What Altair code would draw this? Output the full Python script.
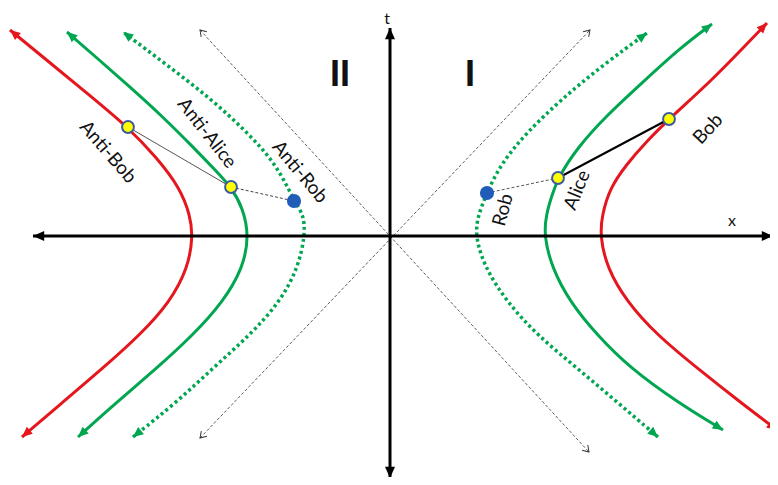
import math
import altair as alt
import pandas as pd

# ---------------- data (x, t) ----------------
RED_R_X = [387, 350, 307, 267, 237, 217, 210, 212, 220, 236, 256, 279, 320, 353, 377]
RED_R_T = [-194, -166, -132, -99, -66, -32, 0, 21, 48, 71, 94, 117, 154, 188, 213]

GREEN_R_X = [333, 287, 240, 207, 180, 162, 154, 156, 162, 168, 187, 217, 253, 290, 322]
GREEN_R_T = [-194, -166, -132, -99, -66, -32, 0, 21, 41, 58, 88, 121, 154, 188, 212]

DOT_R_X = [268, 227, 187, 147, 117, 95, 85, 88, 97, 110, 137, 173, 213, 257]
DOT_R_T = [-201, -166, -132, -99, -66, -32, 0, 21, 43, 71, 104, 138, 171, 203]

RED_L_X = [-368, -327, -287, -250, -220, -202, -197, -200, -210, -233, -262, -307, -347, -380]
RED_L_T = [-201, -166, -132, -99, -66, -32, 0, 21, 48, 78, 109, 146, 179, 206]

GREEN_L_X = [-312, -273, -233, -197, -167, -147, -141, -147, -159, -173, -197, -227, -260, -293, -323]
GREEN_L_T = [-201, -166, -132, -99, -66, -32, 0, 28, 49, 64, 89, 119, 149, 178, 204]

DOT_L_X = [-257, -213, -177, -140, -110, -92, -85, -86, -96, -113, -143, -180, -223, -267]
DOT_L_T = [-201, -166, -132, -99, -66, -32, 0, 21, 35, 71, 104, 138, 171, 204]

# light rays (through origin), each with two ends
LIGHT_X1 = [-190, -190]
LIGHT_T1 = [206, -202]
LIGHT_X2 = [199, 200]
LIGHT_T2 = [-216, 206]

# coordinate axes
AXIS_X1 = [-357, 0]
AXIS_T1 = [0, -242]
AXIS_X2 = [383, 0]
AXIS_T2 = [0, 208]

# observers
OBS_NAMES = ["Anti-Bob", "Anti-Alice", "Anti-Rob", "Rob", "Alice", "Bob"]
OBS_X = [-262, -159, -96, 97, 168, 279]
OBS_T = [109, 49, 35, 43, 58, 117]
OBS_KIND = ["yellow", "yellow", "blue", "blue", "yellow", "yellow"]

# connectors between observers (index pairs)
CONN_FROM = [0, 1, 3, 4]
CONN_TO = [1, 2, 4, 5]
CONN_DASHED = [False, True, True, False]
CONN_WIDTH = [1.0, 1.0, 1.0, 2.0]
CONN_COLOR = ["#555555", "#444444", "#555555", "#000000"]

# labels
LAB_TEXT = ["Anti-Bob", "Anti-Alice", "Anti-Rob", "Rob", "Alice", "Bob"]
LAB_X = [-282, -183, -90, 113, 187, 318]
LAB_T = [84, 103, 64, 26, 46, 107]
LAB_ANGLE = [49, 52, 50, 285, 292, 313]

RED = "#E5161D"
GREEN = "#00A650"

# ---------------- build tables ----------------
curves = [
    ("red_r", RED_R_X, RED_R_T, RED, False),
    ("green_r", GREEN_R_X, GREEN_R_T, GREEN, False),
    ("dot_r", DOT_R_X, DOT_R_T, GREEN, True),
    ("red_l", RED_L_X, RED_L_T, RED, False),
    ("green_l", GREEN_L_X, GREEN_L_T, GREEN, False),
    ("dot_l", DOT_L_X, DOT_L_T, GREEN, True),
]


def heading(x0, t0, x1, t1):
    return (math.degrees(math.atan2(x1 - x0, t1 - t0)) + 360) % 360


line_rows, head_rows = [], []
for name, xs, ts, col, dotted in curves:
    for i, (x, t) in enumerate(zip(xs, ts)):
        line_rows.append(dict(curve=name, order=i, x=x, t=t, color=col, dotted=dotted))
    head_rows.append(dict(x=xs[0], t=ts[0], color=col,
                          angle=heading(xs[1], ts[1], xs[0], ts[0])))
    head_rows.append(dict(x=xs[-1], t=ts[-1], color=col,
                          angle=heading(xs[-2], ts[-2], xs[-1], ts[-1])))
lines = pd.DataFrame(line_rows)
heads = pd.DataFrame(head_rows)

light = pd.DataFrame(dict(x=LIGHT_X1, t=LIGHT_T1, x2=LIGHT_X2, t2=LIGHT_T2))
light_heads = pd.DataFrame(
    [dict(x=a, t=b, angle=heading(c, d, a, b)) for a, b, c, d in zip(LIGHT_X1, LIGHT_T1, LIGHT_X2, LIGHT_T2)]
    + [dict(x=c, t=d, angle=heading(a, b, c, d)) for a, b, c, d in zip(LIGHT_X1, LIGHT_T1, LIGHT_X2, LIGHT_T2)]
)

axes = pd.DataFrame(dict(x=AXIS_X1, t=AXIS_T1, x2=AXIS_X2, t2=AXIS_T2))
axis_heads = pd.DataFrame(
    [dict(x=a, t=b, angle=heading(c, d, a, b)) for a, b, c, d in zip(AXIS_X1, AXIS_T1, AXIS_X2, AXIS_T2)]
    + [dict(x=c, t=d, angle=heading(a, b, c, d)) for a, b, c, d in zip(AXIS_X1, AXIS_T1, AXIS_X2, AXIS_T2)]
)

obs = pd.DataFrame(dict(name=OBS_NAMES, x=OBS_X, t=OBS_T, kind=OBS_KIND))
conn = pd.DataFrame(dict(
    x=[OBS_X[i] for i in CONN_FROM], t=[OBS_T[i] for i in CONN_FROM],
    x2=[OBS_X[i] for i in CONN_TO], t2=[OBS_T[i] for i in CONN_TO],
    dashed=CONN_DASHED, w=CONN_WIDTH, color=CONN_COLOR,
))
labels = pd.DataFrame(dict(text=LAB_TEXT, x=LAB_X, t=LAB_T, angle=LAB_ANGLE))
regions = pd.DataFrame(dict(text=["II", "I"], x=[-50, 80], t=[161, 161]))
axis_labels = pd.DataFrame(dict(text=["t", "x"], x=[-3, 342], t=[225, 23]))

# ---------------- scales ----------------
XS = alt.Scale(domain=[-382, 380], nice=False, zero=False)
YS = alt.Scale(domain=[-241, 228], nice=False, zero=False)
X = alt.X("x:Q", scale=XS, axis=None)
Y = alt.Y("t:Q", scale=YS, axis=None)
X2 = alt.X2("x2:Q")
Y2 = alt.Y2("t2:Q")

TRI = "M0,0L-0.45,1L0.45,1Z"
VEE = "M-0.55,0.85L0,0L0.55,0.85"

light_layer = alt.Chart(light).mark_rule(color="#333333", strokeWidth=0.8, strokeDash=[3, 2]).encode(
    x=X, y=Y, x2=X2, y2=Y2)
light_head_layer = alt.Chart(light_heads).mark_point(
    shape=VEE, filled=False, size=196, color="#333333", strokeWidth=1, opacity=1
).encode(x=X, y=Y, angle=alt.Angle("angle:Q", scale=None))

axes_layer = alt.Chart(axes).mark_rule(color="#000000", strokeWidth=3).encode(x=X, y=Y, x2=X2, y2=Y2)
axes_head_layer = alt.Chart(axis_heads).mark_point(
    shape=TRI, filled=True, size=500, color="#000000", opacity=1
).encode(x=X, y=Y, angle=alt.Angle("angle:Q", scale=None))

solid_layer = alt.Chart(lines[~lines.dotted]).mark_line(strokeWidth=3, interpolate="basis").encode(
    x=X, y=Y, detail="curve:N", order="order:Q", color=alt.Color("color:N", scale=None))
dotted_layer = alt.Chart(lines[lines.dotted]).mark_line(
    strokeWidth=3.5, strokeDash=[3, 3], interpolate="basis"
).encode(x=X, y=Y, detail="curve:N", order="order:Q", color=alt.Color("color:N", scale=None))
heads_layer = alt.Chart(heads).mark_point(shape=TRI, filled=True, size=420, opacity=1).encode(
    x=X, y=Y, angle=alt.Angle("angle:Q", scale=None), color=alt.Color("color:N", scale=None))

conn_solid = alt.Chart(conn[~conn.dashed]).mark_rule().encode(
    x=X, y=Y, x2=X2, y2=Y2, color=alt.Color("color:N", scale=None),
    strokeWidth=alt.StrokeWidth("w:Q", scale=None))
conn_dashed = alt.Chart(conn[conn.dashed]).mark_rule(strokeDash=[3, 2]).encode(
    x=X, y=Y, x2=X2, y2=Y2, color=alt.Color("color:N", scale=None),
    strokeWidth=alt.StrokeWidth("w:Q", scale=None))

yellow_layer = alt.Chart(obs[obs.kind == "yellow"]).mark_point(
    shape="circle", filled=True, size=140, fill="#FFFF00", stroke="#3B5AA0", strokeWidth=2, opacity=1
).encode(x=X, y=Y)
blue_layer = alt.Chart(obs[obs.kind == "blue"]).mark_point(
    shape="circle", filled=True, size=200, color="#1F5DB8", opacity=1
).encode(x=X, y=Y)

label_layer = alt.Chart(labels).mark_text(
    font="Lato", fontSize=19, color="#111111", align="center", baseline="middle"
).encode(x=X, y=Y, text="text:N", angle=alt.Angle("angle:Q", scale=None))
region_layer = alt.Chart(regions).mark_text(
    font="Liberation Sans", fontSize=36, fontWeight="bold", color="#111111", align="center", baseline="middle"
).encode(x=X, y=Y, text="text:N")
axis_label_layer = alt.Chart(axis_labels).mark_text(
    font="Lato", fontSize=16, color="#111111", align="center", baseline="top"
).encode(x=X, y=Y, text="text:N")

chart = alt.layer(
    light_layer, light_head_layer,
    solid_layer, dotted_layer, heads_layer,
    axes_layer, axes_head_layer,
    conn_solid, conn_dashed,
    yellow_layer, blue_layer,
    label_layer, region_layer, axis_label_layer,
).properties(
    width=762, height=469, padding=0, autosize=alt.AutoSizeParams(type="none"), background="white"
).configure_view(stroke=None)

chart.save("out.html", embed_options={"renderer": "svg", "actions": False})
